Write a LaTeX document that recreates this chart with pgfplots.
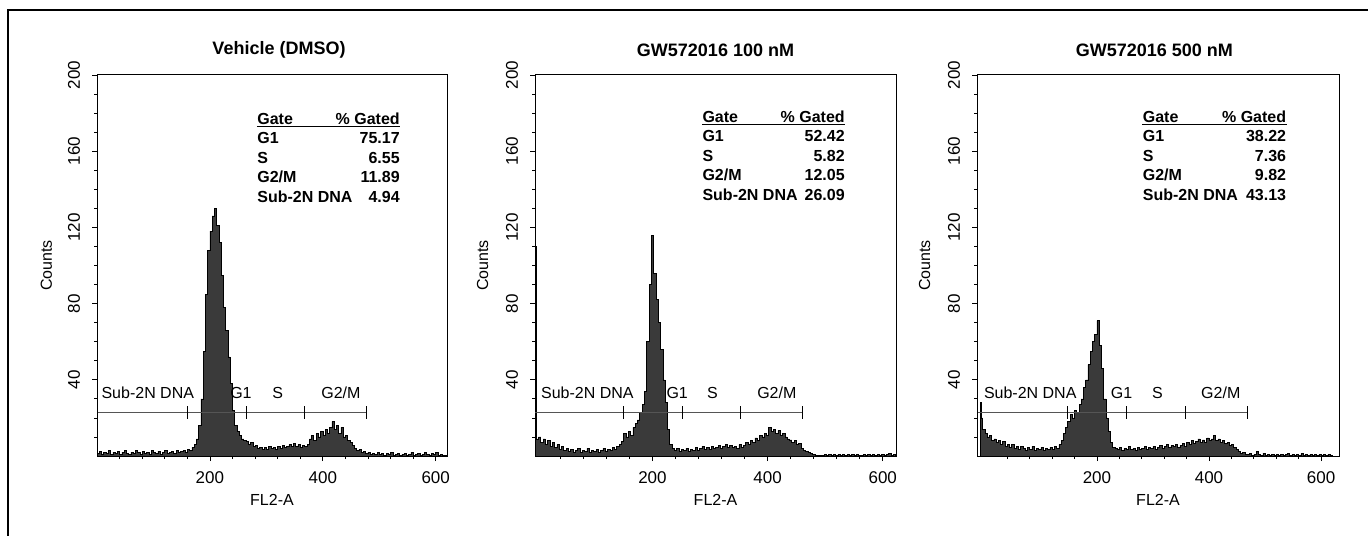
\documentclass[border=0pt]{standalone}
\usepackage{pgfplots}
\pgfplotsset{compat=1.18}
\usepackage{fontspec}
\setmainfont{Liberation Sans}

\definecolor{histfill}{HTML}{3A3A3A}
\definecolor{gateline}{HTML}{555555}

\newcommand\tabfont{\fontsize{8}{9.6}\selectfont\bfseries}
\newcommand\gatefont{\fontsize{8}{9.6}\selectfont}

% panel style: 1px of the reference = 0.5pt
\pgfplotsset{
  facs/.style={
    scale only axis, anchor=south west,
    height=190.5pt,
    ymin=0, ymax=200,
    xtick={200,400,600}, minor xtick={40,80,...,600},
    ytick={40,80,...,200}, minor ytick={10,20,...,200},
    xtick pos=bottom, ytick pos=left,
    tick align=outside, major tick length=2.5pt, minor tick length=1.5pt,
    tick style={black, line width=0.4pt},
    axis line style={line width=0.5pt},
    ticklabel style={font=\fontsize{8.5}{10}\selectfont},
    /pgf/number format/assume math mode=true,
    yticklabel style={rotate=90, anchor=south, yshift=2.5pt},
    xticklabel style={yshift=-2pt},
    xlabel={FL2-A}, ylabel={Counts},
    label style={font=\fontsize{8}{9.6}\selectfont},
    xlabel style={at={(rel axis cs:0.5,0)}, anchor=center, yshift=-22pt},
    ylabel style={at={(rel axis cs:-0.145,0.5)}, anchor=center},
    title style={font=\fontsize{9}{11}\selectfont\bfseries, anchor=center, yshift=6.5pt},
  },
  hist/.style={const plot, fill=histfill, draw=black, line width=0.3pt},
}

% left x, right x (rel), header baseline y, then G1, S, G2/M, Sub-2N
\newcommand{\facstable}[7]{%
  \node[anchor=base west, font=\tabfont, inner sep=0pt] at (rel axis cs:#1,#3) {Gate};
  \node[anchor=base east, font=\tabfont, inner sep=0pt] at (rel axis cs:#2,#3) {\% Gated};
  \draw[line width=0.6pt] ([yshift=-1.2pt]rel axis cs:#1,#3) -- ([yshift=-1.2pt]rel axis cs:#2,#3);
  \node[anchor=base west, font=\tabfont, inner sep=0pt] at ([yshift=-9.75pt]rel axis cs:#1,#3) {G1};
  \node[anchor=base east, font=\tabfont, inner sep=0pt] at ([yshift=-9.75pt]rel axis cs:#2,#3) {#4};
  \node[anchor=base west, font=\tabfont, inner sep=0pt] at ([yshift=-19.5pt]rel axis cs:#1,#3) {S};
  \node[anchor=base east, font=\tabfont, inner sep=0pt] at ([yshift=-19.5pt]rel axis cs:#2,#3) {#5};
  \node[anchor=base west, font=\tabfont, inner sep=0pt] at ([yshift=-29.25pt]rel axis cs:#1,#3) {G2/M};
  \node[anchor=base east, font=\tabfont, inner sep=0pt] at ([yshift=-29.25pt]rel axis cs:#2,#3) {#6};
  \node[anchor=base west, font=\tabfont, inner sep=0pt] at ([yshift=-39pt]rel axis cs:#1,#3) {Sub-2N DNA};
  \node[anchor=base east, font=\tabfont, inner sep=0pt] at ([yshift=-39pt]rel axis cs:#2,#3) {#7};
}

% gate bar: start, the four marker ends
\newcommand{\gatebar}[5]{%
  \draw[gateline, line width=0.5pt] (axis cs:#1,23) -- (axis cs:#5,23);
  \draw[black, line width=0.4pt] (axis cs:#2,19.6) -- (axis cs:#2,26.4);
  \draw[black, line width=0.4pt] (axis cs:#3,19.6) -- (axis cs:#3,26.4);
  \draw[black, line width=0.4pt] (axis cs:#4,19.6) -- (axis cs:#4,26.4);
  \draw[black, line width=0.4pt] (axis cs:#5,19.6) -- (axis cs:#5,26.4);
}

\begin{document}
\begin{tikzpicture}
\path[use as bounding box] (0,0) rectangle (684pt,268pt);
\draw[line width=0.8pt] (684pt,263pt) -- (4pt,263pt) -- (4pt,0pt);

% ---------------- Vehicle (DMSO)
\begin{axis}[facs, at={(48.5pt,40pt)}, width=175pt, xmin=0, xmax=620,
  title={Vehicle (DMSO)}, title style={at={(rel axis cs:0.52,1)}}]
\addplot[hist] coordinates {
(0,1.5)(4,2.5)(8,1)(12,2)(16,1.5)(20,3)(24,1)(28,2)(32,1.5)(36,2.5)(40,1)(44,2)(48,3)(52,1.5)
(56,1)(60,2)(64,1.5)(68,3)(72,2)(76,1)(80,2.5)(84,1.5)(88,2)(92,1)(96,3)(100,2)(104,1.5)
(108,2.5)(112,1)(116,2)(120,3)(124,1.5)(128,2)(132,2.5)(136,1.5)(140,3)(144,2)(148,2.5)
(152,3)(156,2)(160,3.5)(164,3)(168,4.5)(172,6)(176,9)(180,16)(184,30)(188,55)(192,85)
(196,108)(200,118)(204,126)(208,130)(212,121)(216,112)(220,95)(224,78)(228,66)(232,52)
(236,38)(240,24)(244,16)(248,13)(252,11)(256,9)(260,8)(264,7.5)(268,6)(272,7)(276,5)
(280,5.5)(284,4)(288,4.5)(292,3.5)(296,4.5)(300,3.5)(304,5)(308,4)(312,4.5)(316,3.5)
(320,5)(324,4)(328,5.5)(332,4.5)(336,5)(340,6)(344,5)(348,6.5)(352,5)(356,6)(360,4.5)
(364,5.5)(368,5)(372,6)(376,9)(380,11)(384,8)(388,12)(392,10)(396,13)(400,11)(404,14)
(408,12)(412,15)(416,18)(420,14)(424,16)(428,12)(432,15)(436,10)(440,11)(444,8)(448,7)
(452,5.5)(456,4)(460,3)(464,3.5)(468,2)(472,2.5)(476,1.5)(480,2)(484,1)(488,1.5)(492,1)
(496,2)(500,1)(504,1.5)(508,0.5)(512,1.5)(516,1)(520,2)(524,0.5)(528,1)(532,1.5)(536,0.5)
(540,1)(544,1.5)(548,0.5)(552,1)(556,2)(560,0.5)(564,1)(568,1.5)(572,0.5)(576,1)(580,2)
(584,1)(588,0.5)(592,1.5)(596,1)(600,2)(604,0.5)(608,1)(612,0.5)(616,0.5)(620,0.5)
} \closedcycle;
\gatebar{1}{161}{264}{368}{478}
\node[font=\gatefont] at (axis cs:90,33) {Sub-2N DNA};
\node[font=\gatefont] at (axis cs:255,33) {G1};
\node[font=\gatefont] at (axis cs:320,33) {S};
\node[font=\gatefont] at (axis cs:432,33) {G2/M};
\facstable{0.457}{0.866}{0.871}{75.17}{6.55}{11.89}{4.94}
\end{axis}

% ---------------- GW572016 100 nM
\begin{axis}[facs, at={(267.5pt,40pt)}, width=180.5pt, xmin=-4, xmax=623,
  title={GW572016 100 nM}, title style={at={(rel axis cs:0.5,1)}}]
\addplot[hist] coordinates {
(-4,110)(-2,9)(2,10)(6,7)(10,9)(14,6)(18,8)(22,5)(26,7)(30,4.5)(34,6)(38,3.5)(42,5)(46,3)
(50,4)(54,2.5)(58,3.5)(62,2)(66,3)(70,4)(74,2)(78,3)(82,2.5)(86,4)(90,2)(94,3)(98,2.5)
(102,3.5)(106,2)(110,3)(114,4)(118,2.5)(122,3.5)(126,3)(130,4.5)(134,3.5)(138,5)(142,6)
(146,7.5)(150,12)(154,10)(158,13)(162,11)(166,15)(170,17)(174,19)(178,23)(182,27)(186,34)
(190,60)(194,90)(198,116)(202,96)(206,82)(210,70)(214,56)(218,40)(222,28)(226,14)(230,6)
(234,4)(238,3)(242,4)(246,2.5)(250,3.5)(254,3)(258,4)(262,2.5)(266,3.5)(270,3)(274,4.5)
(278,3)(282,4)(286,5)(290,3.5)(294,4.5)(298,3.5)(302,5)(306,4)(310,4.5)(314,5.5)(318,4)
(322,5)(326,6)(330,4.5)(334,5.5)(338,4.5)(342,5)(346,4)(350,6)(354,4.5)(358,5.5)(362,7)
(366,6)(370,8)(374,7)(378,9.5)(382,8)(386,11)(390,10)(394,12)(398,11)(402,15)(406,13)
(410,14)(414,12)(418,13.5)(422,11)(426,12)(430,10)(434,9)(438,8.5)(442,7)(446,8)(450,6)
(454,6.5)(458,4)(462,3)(466,2.5)(470,2)(474,1.5)(478,1)(482,0.5)(486,0.3)(490,0.5)
(494,0.3)(498,1)(502,0.5)(506,1)(510,0.3)(514,0.8)(518,0.5)(522,1)(526,0.3)(530,0.8)
(534,0.5)(538,1)(542,0.3)(546,0.8)(550,0.5)(554,1)(558,0.3)(562,0.5)(566,1)(570,0.3)
(574,0.8)(578,0.5)(582,1)(586,0.3)(590,0.8)(594,0.5)(598,1)(602,0.5)(606,0.8)(610,1.5)
(614,0.5)(618,0.8)(622,0.8)
} \closedcycle;
\gatebar{-4}{150}{252}{353}{461}
\node[font=\gatefont] at (axis cs:87,33) {Sub-2N DNA};
\node[font=\gatefont] at (axis cs:243,33) {G1};
\node[font=\gatefont] at (axis cs:304,33) {S};
\node[font=\gatefont] at (axis cs:416,33) {G2/M};
\facstable{0.463}{0.859}{0.876}{52.42}{5.82}{12.05}{26.09}
\end{axis}

% ---------------- GW572016 500 nM
\begin{axis}[facs, at={(488.5pt,40pt)}, width=181pt, xmin=-14, xmax=632,
  title={GW572016 500 nM}, title style={at={(rel axis cs:0.49,1)}}]
\addplot[hist] coordinates {
(-8,28)(-6,20)(-4,14)(0,12)(4,10)(8,11)(12,8)(16,9)(20,7)(24,8)(28,6)(32,7.5)(36,5)(40,6)
(44,4.5)(48,6)(52,4)(56,5)(60,3.5)(64,5)(68,4)(72,3)(76,4.5)(80,3.5)(84,5)(88,3)(92,4)
(96,3.5)(100,4.5)(104,3)(108,4)(112,3.5)(116,4.5)(120,3.5)(124,5)(128,4)(132,6)(136,8)
(140,12)(144,15)(148,18)(152,22)(156,20)(160,24)(164,23)(168,27)(172,30)(176,36)(180,40)
(184,48)(188,55)(192,60)(196,64)(200,71)(204,58)(208,46)(212,30)(216,20)(220,13)(224,7)
(228,4.5)(232,4)(236,3.5)(240,4.5)(244,3)(248,4)(252,3.5)(256,5)(260,3.5)(264,4)(268,3)
(272,4.5)(276,3.5)(280,4)(284,5)(288,3.5)(292,4.5)(296,4)(300,5)(304,3.5)(308,4.5)(312,5.5)
(316,4)(320,5)(324,6)(328,4.5)(332,5.5)(336,5)(340,6)(344,4.5)(348,5.5)(352,6.5)(356,5)
(360,7)(364,6)(368,8)(372,6.5)(376,7.5)(380,9)(384,7)(388,8.5)(392,7)(396,9.5)(400,8)
(404,9)(408,11)(412,8)(416,9)(420,7)(424,8)(428,6.5)(432,7)(436,5.5)(440,6)(444,4.5)
(448,3.5)(452,2.5)(456,1.5)(460,1.8)(464,1)(468,0.8)(472,1.2)(476,0.5)(480,1)(484,2.5)
(488,0.8)(492,0.5)(496,1.5)(500,0.5)(504,1)(508,0.3)(512,1)(516,0.5)(520,0.8)(524,0.3)
(528,1)(532,0.5)(536,0.8)(540,1.2)(544,0.3)(548,0.8)(552,0.5)(556,1)(560,0.3)(564,1.2)
(568,0.5)(572,0.8)(576,0.3)(580,1)(584,0.5)(588,1)(592,0.3)(596,0.8)(600,0.5)(604,1)
(608,0.3)(612,1)(616,0.5)(620,0.5)
} \closedcycle;
\gatebar{-12}{148}{252}{357}{468}
\node[font=\gatefont] at (axis cs:81,33) {Sub-2N DNA};
\node[font=\gatefont] at (axis cs:244,33) {G1};
\node[font=\gatefont] at (axis cs:308,33) {S};
\node[font=\gatefont] at (axis cs:421,33) {G2/M};
\facstable{0.457}{0.855}{0.876}{38.22}{7.36}{9.82}{43.13}
\end{axis}
\end{tikzpicture}
\end{document}
